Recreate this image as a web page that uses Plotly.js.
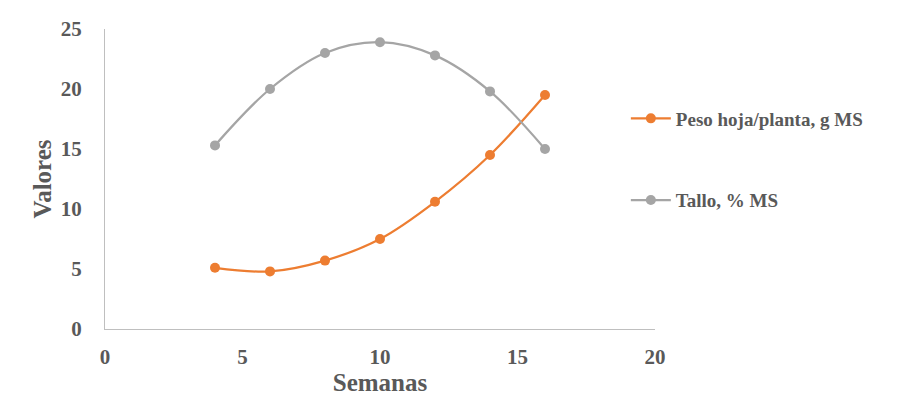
<!DOCTYPE html>
<html>
<head>
<meta charset="utf-8">
<script src="https://cdn.plot.ly/plotly-3.0.1.min.js"></script>
<style>
  body { margin: 0; background: #fff; }
  #chart { width: 924px; height: 403px; }
</style>
</head>
<body>
<div id="chart"></div>
<script>
var semanas = [4, 6, 8, 10, 12, 14, 16];
var pesoHoja = [5.1, 4.8, 5.7, 7.5, 10.6, 14.5, 19.5];
var tallo = [15.3, 20.0, 23.0, 23.9, 22.8, 19.8, 15.0];

var serif = "'Liberation Serif', 'Times New Roman', Times, serif";

var trace1 = {
  x: semanas,
  y: pesoHoja,
  mode: 'lines+markers',
  name: 'Peso hoja/planta, g MS',
  legendgroup: 'a',
  line: {color: '#ED7D31', width: 2.25, shape: 'spline', smoothing: 1},
  marker: {color: '#ED7D31', size: 10}
};

var trace2 = {
  x: semanas,
  y: tallo,
  mode: 'lines+markers',
  name: 'Tallo, % MS',
  legendgroup: 'b',
  line: {color: '#A5A5A5', width: 2.25, shape: 'spline', smoothing: 1},
  marker: {color: '#A5A5A5', size: 10}
};

var data = [trace1, trace2];

var tickFont = {family: serif, size: 21, color: '#595959', weight: 'bold'};
var titleFont = {family: serif, size: 25, color: '#595959', weight: 'bold'};

var layout = {
  width: 924,
  height: 403,
  margin: {l: 105, r: 269, t: 29, b: 74},
  paper_bgcolor: '#fff',
  plot_bgcolor: '#fff',
  font: {family: serif, color: '#595959'},
  showlegend: true,
  legend: {
    x: 0.947, y: 0.765, xanchor: 'left', yanchor: 'top',
    traceorder: 'grouped',
    tracegroupgap: 54,
    itemwidth: 40,
    font: {family: serif, size: 19, color: '#595959', weight: 'bold'}
  },
  xaxis: {
    range: [0, 20],
    dtick: 5,
    showgrid: false,
    zeroline: false,
    showline: true,
    linecolor: '#BFBFBF',
    linewidth: 1,
    ticks: '',
    ticklabelstandoff: 9,
    tickfont: tickFont,
    title: {text: 'Semanas', font: titleFont, standoff: 0}
  },
  yaxis: {
    range: [0, 25],
    dtick: 5,
    showgrid: false,
    zeroline: false,
    showline: true,
    linecolor: '#BFBFBF',
    linewidth: 1,
    ticks: '',
    ticklabelstandoff: 18,
    tickfont: tickFont,
    title: {text: 'Valores', font: titleFont, standoff: 2}
  }
};

Plotly.newPlot('chart', data, layout, {displayModeBar: false});
</script>
</body>
</html>
